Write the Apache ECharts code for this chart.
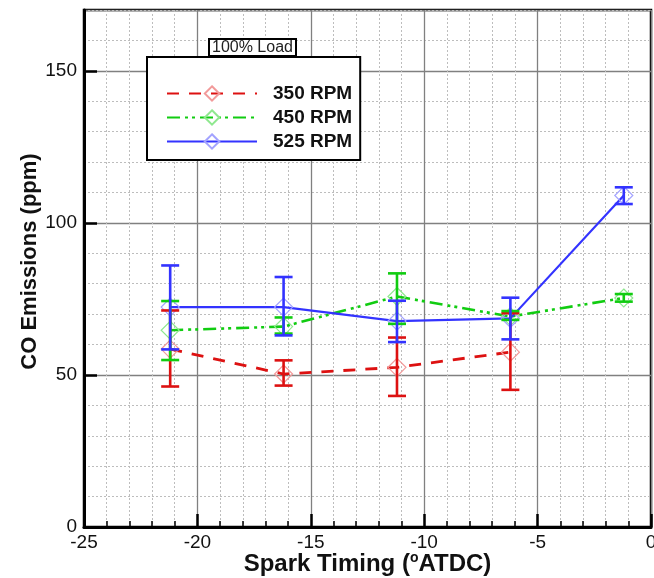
<!DOCTYPE html>
<html>
<head>
<meta charset="utf-8">
<script src="https://cdn.jsdelivr.net/npm/echarts@6/dist/echarts.min.js"></script>
<style>html,body{margin:0;padding:0;background:#fff;}#c{width:654px;height:578px;}</style>
</head>
<body>
<div id="c"></div>
<script>
// Spark timing (°ATDC)
const sparkTiming = [-21.2, -16.2, -11.2, -6.2, -1.2];
// 350 RPM
const co350 = [58.5, 50.3, 52.5, 57.5];
const co350Low = [46.2, 46.5, 43.1, 45.1];
const co350High = [71.2, 54.8, 62.3, 70.3];
// 450 RPM
const co450 = [64.7, 65.9, 75.8, 69.2, 75.3];
const co450Low = [54.9, 63.6, 66.8, 68.1, 74.1];
const co450High = [74.3, 68.9, 83.4, 71.0, 76.6];
// 525 RPM
const co525 = [72.3, 72.3, 67.7, 68.6, 109.0];
const co525Low = [58.4, 63.0, 60.8, 61.7, 106.2];
const co525High = [86.0, 82.2, 74.4, 75.4, 111.7];

const seriesNames = ['350 RPM', '450 RPM', '525 RPM'];
const titleText = '100% Load';

const FONT = '"Liberation Sans", Arial, Helvetica, sans-serif';

function pairs(xs, ys) { return ys.map((y, i) => [xs[i], y]); }
function bars(xs, lo, hi) { return lo.map((l, i) => [xs[i], l, hi[i]]); }

function errorSeries(name, data, color) {
  return {
    name: name + ' err',
    type: 'custom',
    data: data,
    encode: { x: 0, y: [1, 2] },
    z: 4,
    renderItem: function (params, api) {
      const x = api.value(0), lo = api.value(1), hi = api.value(2);
      const a = api.coord([x, lo]), b = api.coord([x, hi]);
      const h = 9;
      const st = { stroke: color, lineWidth: 2.6 };
      return {
        type: 'group',
        children: [
          { type: 'line', shape: { x1: a[0], y1: a[1], x2: b[0], y2: b[1] }, style: st },
          { type: 'line', shape: { x1: a[0] - h, y1: a[1], x2: a[0] + h, y2: a[1] }, style: st },
          { type: 'line', shape: { x1: b[0] - h, y1: b[1], x2: b[0] + h, y2: b[1] }, style: st }
        ]
      };
    }
  };
}

function lineSeries(name, data, color, light, width, type) {
  return {
    name: name,
    type: 'line',
    data: data,
    symbol: 'diamond',
    symbolSize: 18,
    showSymbol: true,
    z: 3,
    itemStyle: { color: 'rgba(255,255,255,0)', borderColor: light, borderWidth: 1.2 },
    lineStyle: { color: color, width: width, type: type },
    emphasis: { disabled: true }
  };
}

const chart = echarts.init(document.getElementById('c'), null, { renderer: 'canvas' });
chart.setOption({
  animation: false,
  backgroundColor: '#fff',
  title: {
    text: titleText,
    left: 209, top: 39,
    padding: [1, 3, 0, 3],
    borderWidth: 2, borderColor: '#000', backgroundColor: '#fff',
    textStyle: { fontFamily: FONT, fontSize: 16, fontWeight: 'normal', color: '#222', lineHeight: 16 },
    z: 10
  },
  legend: {
    data: seriesNames,
    orient: 'vertical',
    left: 147, top: 57,
    padding: [27, 8, 9, 19],
    itemWidth: 90, itemHeight: 18, itemGap: 5,
    borderColor: '#000', borderWidth: 2, backgroundColor: '#fff',
    selectedMode: false,
    textStyle: { fontFamily: FONT, fontSize: 19, fontWeight: 'bold', color: '#111', padding: [0, 0, 0, 11] },
    z: 9
  },
  grid: {
    left: 84, right: 3, top: 10, bottom: 51,
    outerBoundsMode: 'none',
    containLabel: false,
    show: true, borderColor: '#000', borderWidth: 2.5, backgroundColor: 'transparent'
  },
  xAxis: {
    type: 'value', min: -25, max: 0, interval: 5,
    name: '{a|Spark Timing (}{s|o}{a|ATDC)}',
    nameLocation: 'middle', nameGap: 24, nameMoveOverlap: false,
    nameTextStyle: {
      rich: {
        a: { fontFamily: FONT, fontSize: 24, fontWeight: 'bold', color: '#111', lineHeight: 26 },
        s: { fontFamily: FONT, fontSize: 14, fontWeight: 'bold', color: '#111', lineHeight: 11, verticalAlign: 'top' }
      }
    },
    axisLine: { show: true, onZero: false, lineStyle: { color: '#000', width: 3 } },
    axisTick: { show: true, inside: true, length: 13, lineStyle: { color: '#000', width: 2.5 } },
    minorTick: { show: true, splitNumber: 5, length: 6, lineStyle: { color: '#000', width: 1.5 } },
    axisLabel: { fontFamily: FONT, fontSize: 19, color: '#111', margin: 6 },
    splitLine: { show: true, lineStyle: { color: '#808080', width: 1.3 } },
    minorSplitLine: { show: true, lineStyle: { color: '#bdbdbd', width: 1, type: [2, 2] } }
  },
  yAxis: [{
    type: 'value', min: 0, max: 170, interval: 50,
    name: 'CO Emissions (ppm)',
    nameLocation: 'middle', nameGap: 43, nameMoveOverlap: false,
    nameTextStyle: { fontFamily: FONT, fontSize: 22, fontWeight: 'bold', color: '#111', padding: [0, 0, 0, 14] },
    axisLine: { show: true, onZero: false, lineStyle: { color: '#000', width: 3 } },
    axisTick: { show: true, inside: true, length: 13, lineStyle: { color: '#000', width: 2.5 } },
    axisLabel: { fontFamily: FONT, fontSize: 19, color: '#111', margin: 7, showMaxLabel: false,
      formatter: function (v) { return v === 170 ? '' : String(v); } },
    splitLine: { show: true, lineStyle: { color: '#808080', width: 1.3 } }
  }, {
    type: 'value', min: 0, max: 170, interval: 10, position: 'left',
    axisLine: { show: false },
    axisTick: { show: false },
    axisLabel: { show: false },
    splitLine: { show: true, lineStyle: { color: ['transparent', '#bdbdbd', '#bdbdbd', '#bdbdbd', '#bdbdbd'], width: 1, type: [2, 2] } }
  }],
  series: [
    lineSeries(seriesNames[0], pairs(sparkTiming, co350), '#dd1111', '#f29a9a', 2.8, [12, 10]),
    errorSeries(seriesNames[0], bars(sparkTiming, co350Low, co350High), '#dd1111'),
    lineSeries(seriesNames[1], pairs(sparkTiming, co450), '#11cc11', '#8fe88f', 2.6, [13, 5, 3, 4, 3, 5]),
    errorSeries(seriesNames[1], bars(sparkTiming, co450Low, co450High), '#11cc11'),
    lineSeries(seriesNames[2], pairs(sparkTiming, co525), '#3333ff', '#a3a3ff', 2.2, 'solid'),
    errorSeries(seriesNames[2], bars(sparkTiming, co525Low, co525High), '#3333ff')
  ]
});
</script>
</body>
</html>
